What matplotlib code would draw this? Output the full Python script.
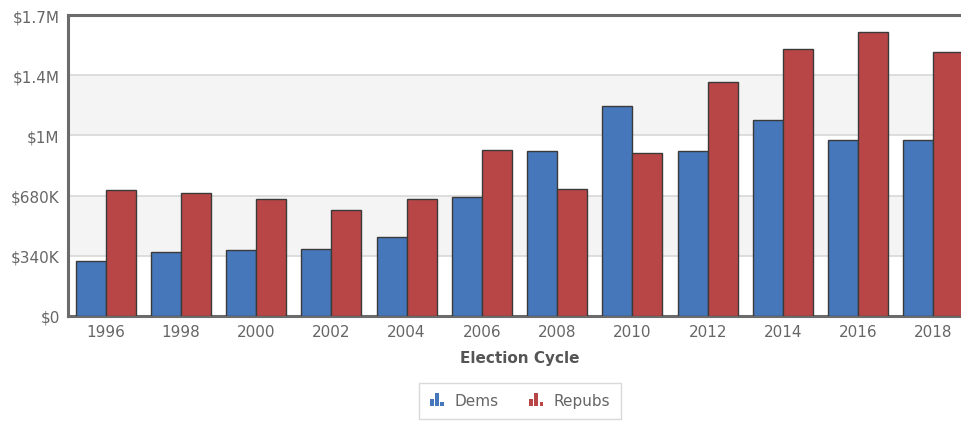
import matplotlib
matplotlib.use("Agg")
import matplotlib.pyplot as plt
from matplotlib.patches import Rectangle
from matplotlib.legend_handler import HandlerBase
import numpy as np

cycles = ["1996", "1998", "2000", "2002", "2004", "2006", "2008", "2010", "2012", "2014", "2016", "2018"]
dems = [310, 362, 373, 379, 446, 672, 932, 1186, 932, 1107, 994, 994]       # $K
repubs = [712, 695, 661, 599, 661, 938, 718, 921, 1322, 1508, 1605, 1492]   # $K
yticks = [0, 340, 680, 1020, 1360, 1700]
ytick_labels = ["$0", "$340K", "$680K", "$1M", "$1.4M", "$1.7M"]

blue = "#4677BA"
red = "#B94646"
gray_text = "#666666"

fig = plt.figure(figsize=(9.61, 4.39), dpi=100)
ax = fig.add_axes([68/961, 1-317/439, (971-68)/961, (317-16)/439])

x = np.arange(len(cycles))
w = 0.4
ax.bar(x - w/2, dems, width=w, color=blue, edgecolor="#3a3a3a", linewidth=1.0, zorder=3)
ax.bar(x + w/2, repubs, width=w, color=red, edgecolor="#3a3a3a", linewidth=1.0, zorder=3)

ax.set_xlim(-0.5, len(cycles) - 0.5)
ax.set_ylim(0, 1700)

# alternating bands
for i in range(len(yticks) - 1):
    if i % 2 == 1:
        ax.axhspan(yticks[i], yticks[i+1], color="#f4f4f4", zorder=0, lw=0)
for yv in yticks[1:-1]:
    ax.axhline(yv, color="#d8d8d8", lw=1.2, zorder=1)

ax.set_yticks(yticks)
ax.set_yticklabels(ytick_labels)
ax.set_xticks(x)
ax.set_xticklabels(cycles)
ax.tick_params(axis="both", length=0, labelsize=11, colors=gray_text)
ax.tick_params(axis="x", pad=6)
ax.tick_params(axis="y", pad=6)

for s in ["left", "bottom", "top"]:
    ax.spines[s].set_color("#6b6b6b")
    ax.spines[s].set_linewidth(2.2)
ax.spines["right"].set_visible(False)

ax.set_xlabel("Election Cycle", fontsize=11, fontweight="bold", color="#555555", labelpad=8)


class BarIconHandler(HandlerBase):
    def __init__(self, color):
        super().__init__()
        self.color = color

    def create_artists(self, legend, orig_handle, xdescent, ydescent, width, height, fontsize, trans):
        arts = []
        bw = width / 4.2
        heights = [0.55, 1.0, 0.3]
        for i, hf in enumerate(heights):
            r = Rectangle((-xdescent + i * bw * 1.45, -ydescent), bw, height * hf * 1.1,
                          facecolor=self.color, edgecolor="none", transform=trans)
            arts.append(r)
        return arts


h1 = Rectangle((0, 0), 1, 1, color=blue)
h2 = Rectangle((0, 0), 1, 1, color=red)
leg = fig.legend([h1, h2], ["Dems", "Repubs"], loc="center", bbox_to_anchor=(520/961, 1-402/439),
                 ncol=2, fontsize=11, frameon=True, fancybox=False, shadow=False,
                 handler_map={h1: BarIconHandler(blue), h2: BarIconHandler(red)},
                 handlelength=1.0, handleheight=0.8, handletextpad=0.6, columnspacing=2.0,
                 borderpad=0.7)
for t in leg.get_texts():
    t.set_color(gray_text)
leg.get_frame().set_edgecolor("#d0d0d0")
leg.get_frame().set_linewidth(1.0)

fig.savefig("out.png", dpi=100)
